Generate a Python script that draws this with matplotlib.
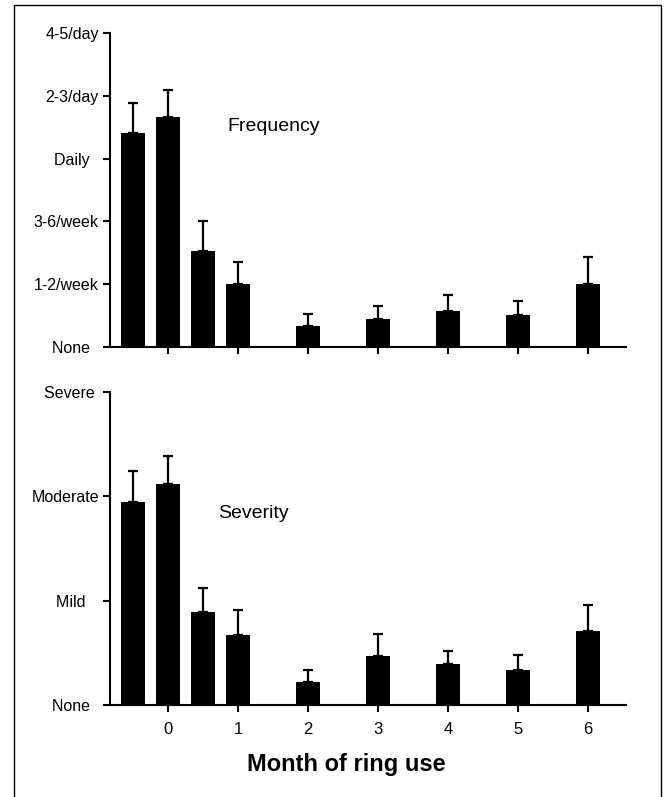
import matplotlib
matplotlib.use("Agg")
import matplotlib.pyplot as plt
from matplotlib.patches import Rectangle

plt.rcParams['font.family'] = ['Liberation Sans', 'DejaVu Sans']

# bar positions (months of ring use; -0.5 is baseline, 0.5 is two weeks)
positions = [-0.5, 0, 0.5, 1, 2, 3, 4, 5, 6]
month_ticks = [0, 1, 2, 3, 4, 5, 6]

freq_labels = ["None  ", "1-2/week", "3-6/week", "Daily  ", "2-3/day", "4-5/day"]
freq_mean = [3.40, 3.67, 1.53, 1.00, 0.34, 0.44, 0.58, 0.51, 1.00]
freq_err = [0.48, 0.42, 0.47, 0.36, 0.19, 0.22, 0.25, 0.22, 0.43]

sev_labels = ["None  ", "Mild   ", "Moderate", "Severe "]
sev_mean = [1.95, 2.12, 0.89, 0.67, 0.22, 0.47, 0.39, 0.34, 0.71]
sev_err = [0.29, 0.27, 0.23, 0.24, 0.12, 0.21, 0.13, 0.14, 0.25]

W, H = 666, 797
fig = plt.figure(figsize=(W / 100, H / 100), dpi=100)

# thin frame around the figure (open at the bottom)
fig.add_artist(Rectangle((14 / W, -0.02), (661 - 14) / W, 1.02 - 5 / H,
                         transform=fig.transFigure, fill=False,
                         edgecolor="black", linewidth=1))

left, right = 110 / W, 626 / W
xlim = (-0.83, 6.54)


def panel(rect, mean, err, ylabels, title, title_xy, show_xlabels):
    ax = fig.add_axes(rect)
    ax.bar(positions, mean, width=0.34, color="black", edgecolor="black",
           linewidth=0)
    ax.errorbar(positions, mean, yerr=[[0] * len(err), err], fmt="none",
                ecolor="black", elinewidth=1.6, capsize=3.5, capthick=1.6)
    ax.set_xlim(*xlim)
    ax.set_ylim(0, len(ylabels) - 1)
    ax.set_yticks(range(len(ylabels)))
    ax.set_yticklabels(ylabels, fontsize=11.5)
    ax.set_xticks(month_ticks)
    if show_xlabels:
        ax.set_xticklabels([str(m) for m in month_ticks], fontsize=12)
    else:
        ax.set_xticklabels([])
    for side in ("top", "right"):
        ax.spines[side].set_visible(False)
    for side in ("left", "bottom"):
        ax.spines[side].set_linewidth(1.5)
    ax.tick_params(direction="out", length=5, width=1.5, pad=3)
    ax.tick_params(axis="x", pad=7)
    ax.text(title_xy[0], title_xy[1], title, fontsize=14, ha="center",
            va="center")
    ax.patch.set_alpha(0)
    return ax


ax1 = panel([left, 1 - 347 / H, right - left, (347 - 33) / H],
            freq_mean, freq_err, freq_labels, "Frequency", (1.5, 3.51), False)
ax2 = panel([left, 1 - 705 / H, right - left, (705 - 392) / H],
            sev_mean, sev_err, sev_labels, "Severity", (1.22, 1.84), True)

fig.text(346 / W, 1 - 765 / H, "Month of ring use", fontsize=17,
         fontweight="bold", ha="center", va="center",
         family=['Liberation Sans Narrow', 'Liberation Sans'])

fig.savefig("out.png", dpi=100)
